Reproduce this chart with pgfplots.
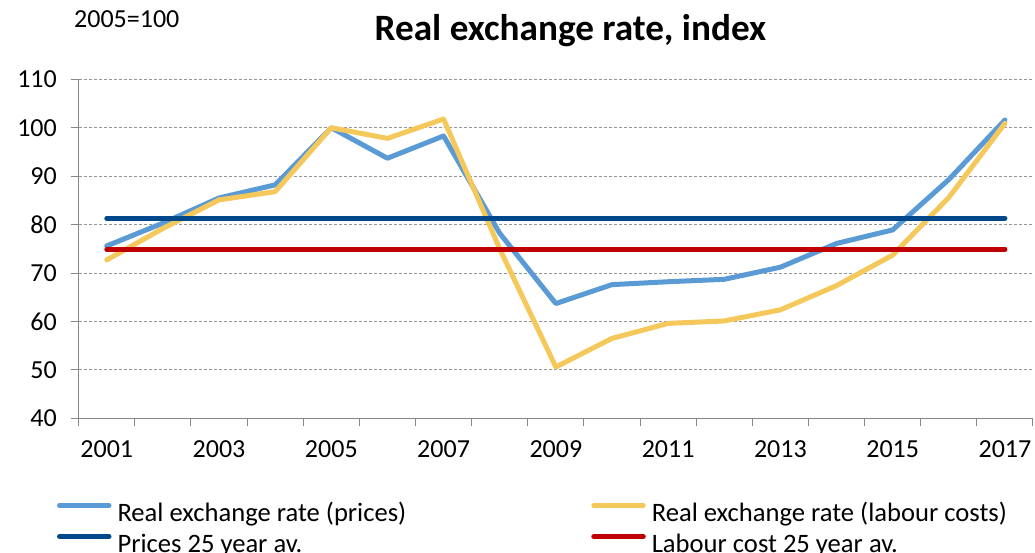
\documentclass[border=0pt]{standalone}
\usepackage{pgfplots}
\pgfplotsset{compat=1.18}
\usepackage{fontspec}
\setmainfont{Carlito}
\definecolor{lblue}{RGB}{91,155,213}
\definecolor{gold}{RGB}{245,200,92}
\definecolor{dblue}{RGB}{0,72,140}
\definecolor{dred}{RGB}{192,0,0}
\definecolor{gridgray}{RGB}{150,150,150}
\definecolor{axgray}{RGB}{134,134,134}
\pgfplotstableread{
year prices labour pavg lavg
2001 75.6 72.7 81.3 74.9
2002 80.3 79.2 81.3 74.9
2003 85.5 85.1 81.3 74.9
2004 88.2 86.8 81.3 74.9
2005 100.0 100.0 81.3 74.9
2006 93.7 97.8 81.3 74.9
2007 98.3 101.8 81.3 74.9
2008 78.2 75.0 81.3 74.9
2009 63.7 50.6 81.3 74.9
2010 67.6 56.5 81.3 74.9
2011 68.2 59.6 81.3 74.9
2012 68.7 60.1 81.3 74.9
2013 71.2 62.4 81.3 74.9
2014 76.1 67.4 81.3 74.9
2015 78.9 73.7 81.3 74.9
2016 89.3 85.6 81.3 74.9
2017 101.6 100.9 81.3 74.9
}\data
\begin{document}
\begin{tikzpicture}
\begin{axis}[
  name=ax,
  scale only axis, width=954.3pt, height=339pt,
  xmin=2000.5, xmax=2017.5, ymin=40, ymax=110,
  axis x line*=bottom, axis y line*=left,
  axis line style={axgray, line width=1.2pt},
  xtick={2001,2003,...,2017},
  xticklabels={2001,2003,2005,2007,2009,2011,2013,2015,2017},
  minor xtick={2000.5,2001.5,...,2017.5},
  ytick={40,50,...,110},
  tick align=outside,
  major tick length=8pt, minor tick length=8pt,
  tick style={axgray, line width=1pt},
  major x tick style={draw=none},
  ymajorgrids,
  major grid style={gridgray, dash pattern=on 3pt off 2pt, line width=1pt},
  /pgf/number format/assume math mode=true,
  tick label style={font=\fontsize{26}{30}\selectfont},
  yticklabel style={anchor=east, inner sep=0pt, xshift=-13.7pt},
  xticklabel style={anchor=north, inner sep=0pt, yshift=-14pt},
  legend columns=2,
  legend cell align=left,
  legend style={at={(axis description cs:-0.02274,-0.2469)}, anchor=north west,
    draw=none, fill=none, inner sep=0pt, outer sep=0pt,
    font=\fontsize{26.6}{31}\selectfont, row sep=6pt,
    nodes={inner sep=0pt, text height=19pt, text depth=6pt},
    /tikz/every even column/.append style={column sep=185pt},
    /tikz/every odd column/.append style={column sep=6pt}},
  legend image code/.code={\draw[#1, line width=5pt, line cap=round] (2.5pt,9pt) -- (52pt,9pt);},
]
\addplot[lblue, line width=5pt, line join=round, line cap=round, mark=none] table[x=year, y=prices] {\data};
\addlegendentry{Real exchange rate (prices)}
\addplot[gold, line width=5pt, line join=round, line cap=round, mark=none] table[x=year, y=labour] {\data};
\addlegendentry{Real exchange rate (labour costs)}
\addplot[dblue, line width=5pt, line cap=round, mark=none] table[x=year, y=pavg] {\data};
\addlegendentry{Prices 25 year av.}
\addplot[dred, line width=5pt, line cap=round, mark=none] table[x=year, y=lavg] {\data};
\addlegendentry{Labour cost 25 year av.}
\end{axis}
\begin{scope}[shift={(ax.south west)}]
\node[anchor=base, inner sep=0pt, font=\fontsize{37.2}{40}\selectfont\bfseries] at (491.8pt,377.3pt) {Real exchange rate, index};
\node[anchor=base west, inner sep=0pt, font=\fontsize{26}{30}\selectfont] at (-4.7pt,390.3pt) {2005=100};
\pgfresetboundingbox
\path[use as bounding box] (-78.7pt,-133.7pt) rectangle (956.3pt,418.3pt);
\end{scope}
\end{tikzpicture}
\end{document}
